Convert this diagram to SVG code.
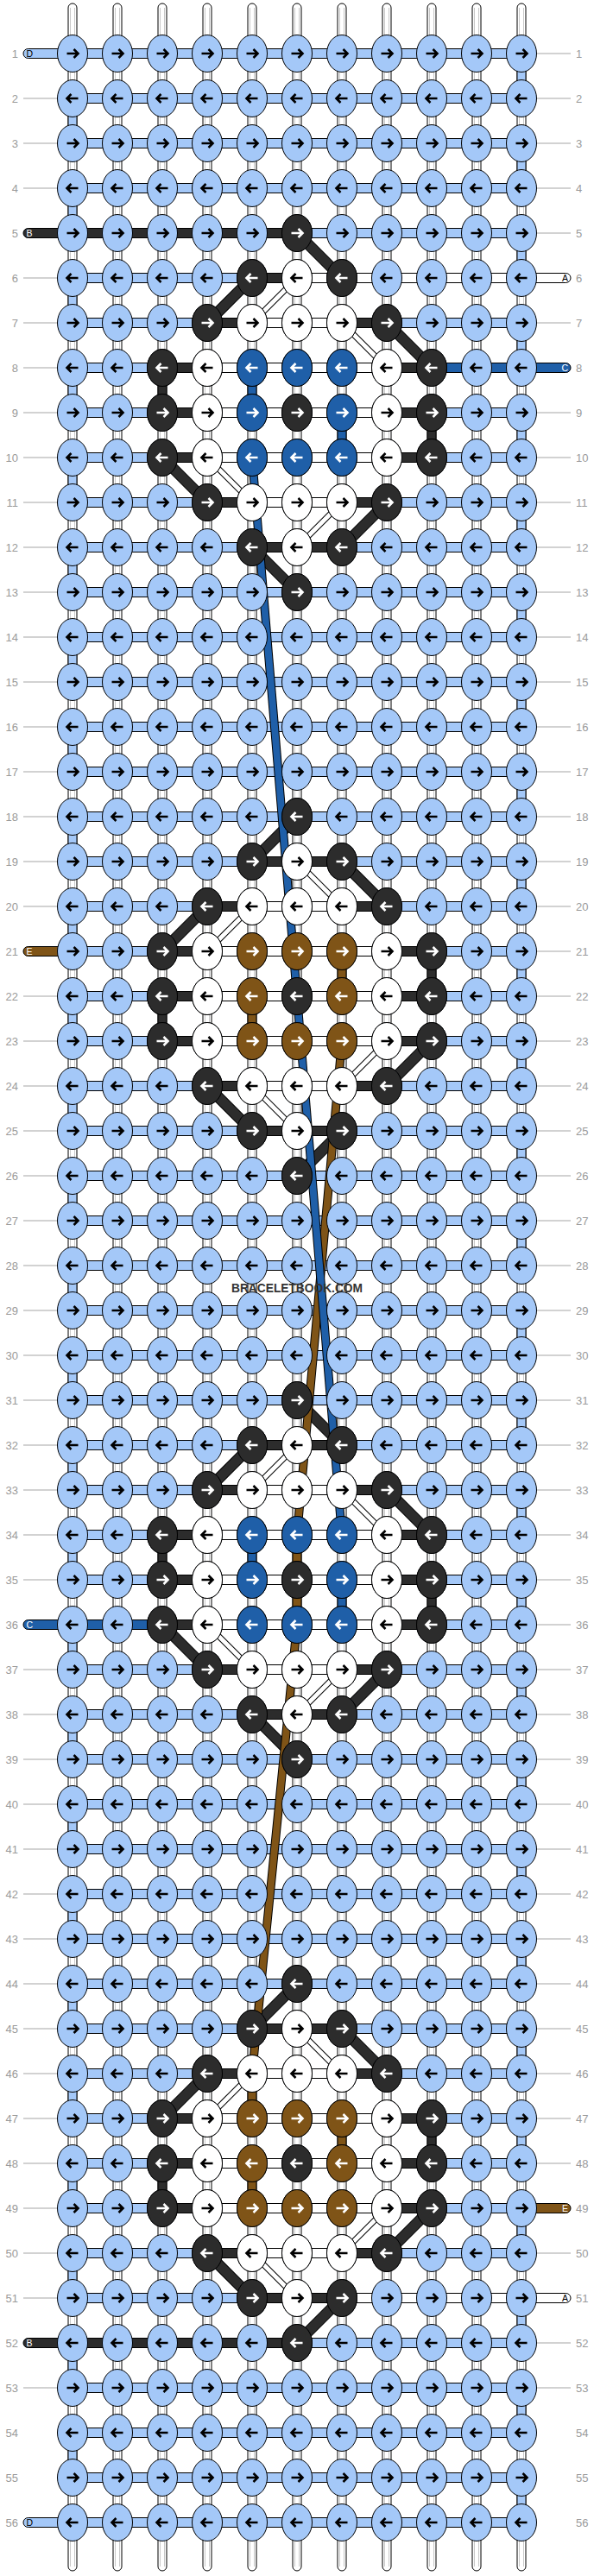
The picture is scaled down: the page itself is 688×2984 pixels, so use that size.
<svg xmlns="http://www.w3.org/2000/svg" width="688" height="2984" viewBox="0 0 688 2984">
<style>
.s{stroke:#000;stroke-width:1}
.L{fill:#a4c8f8}.K{fill:#2c2c2c}.W{fill:#fff}.U{fill:#1f5fa8}.N{fill:#7f5417}
.ab{stroke:#000}.aw{stroke:#fff}
.lbl{font-family:"Liberation Sans",Arial,sans-serif;font-size:13px;fill:#9a9a9a}
.ent{font-family:"Liberation Sans",Arial,sans-serif;font-size:10.5px}
.gl{stroke:#c4c4c4;stroke-width:1.5;fill:none}
.in{stroke:#c8c8c8;stroke-width:1;fill:none}
</style>
<defs>
<path id="ar" d="M-6.5,0H6M1.5,-5L6.5,0L1.5,5" fill="none" stroke-width="2.6"/>
<path id="al" d="M6.5,0H-6M-1.5,-5L-6.5,0L-1.5,5" fill="none" stroke-width="2.6"/>
<g id="Lr" class="L"><ellipse class="s" rx="17.5" ry="21.5"/><use href="#ar" class="ab"/></g>
<g id="Ll" class="L"><ellipse class="s" rx="17.5" ry="21.5"/><use href="#al" class="ab"/></g>
<g id="Wr" class="W"><ellipse class="s" rx="17.5" ry="21.5"/><use href="#ar" class="ab"/></g>
<g id="Wl" class="W"><ellipse class="s" rx="17.5" ry="21.5"/><use href="#al" class="ab"/></g>
<g id="Kr" class="K"><ellipse class="s" rx="17.5" ry="21.5"/><use href="#ar" class="aw"/></g>
<g id="Kl" class="K"><ellipse class="s" rx="17.5" ry="21.5"/><use href="#al" class="aw"/></g>
<g id="Ur" class="U"><ellipse class="s" rx="17.5" ry="21.5"/><use href="#ar" class="aw"/></g>
<g id="Ul" class="U"><ellipse class="s" rx="17.5" ry="21.5"/><use href="#al" class="aw"/></g>
<g id="Nr" class="N"><ellipse class="s" rx="17.5" ry="21.5"/><use href="#ar" class="aw"/></g>
<g id="Nl" class="N"><ellipse class="s" rx="17.5" ry="21.5"/><use href="#al" class="aw"/></g>
<g id="PR"><use href="#Lr" x="84"/><use href="#Lr" x="136"/><use href="#Lr" x="188"/><use href="#Lr" x="240"/><use href="#Lr" x="292"/><use href="#Lr" x="344"/><use href="#Lr" x="396"/><use href="#Lr" x="448"/><use href="#Lr" x="500"/><use href="#Lr" x="552"/><use href="#Lr" x="604"/></g>
<g id="PL"><use href="#Ll" x="84"/><use href="#Ll" x="136"/><use href="#Ll" x="188"/><use href="#Ll" x="240"/><use href="#Ll" x="292"/><use href="#Ll" x="344"/><use href="#Ll" x="396"/><use href="#Ll" x="448"/><use href="#Ll" x="500"/><use href="#Ll" x="552"/><use href="#Ll" x="604"/></g>
<g id="hA"><rect class="s K" x="240" y="-5.5" width="208" height="11"/><rect class="s W" x="292" y="-5.5" width="104" height="11"/></g>
<g id="hB"><rect class="s K" x="188" y="-5.5" width="312" height="11"/><rect class="s W" x="240" y="-5.5" width="208" height="11"/></g>
<rect id="hC" class="s K" x="292" y="-5.5" width="104" height="11"/>
<path id="kd" d="M344,270L396,322M292,322L240,374M448,374L500,426M188,530L240,582M448,582L396,634M292,634L344,686M344,946L292,998M396,998L448,1050M240,1050L188,1102M500,1206L448,1258M240,1258L292,1310M396,1310L344,1362M344,1622L396,1674M292,1674L240,1726M448,1726L500,1778M188,1882L240,1934M448,1934L396,1986M292,1986L344,2038M344,2298L292,2350M396,2350L448,2402M240,2402L188,2454M500,2558L448,2610M240,2610L292,2662M396,2662L344,2714" fill="none"/>
<path id="wd" d="M344,322L292,374M396,374L448,426M240,530L292,582M396,582L344,634M344,998L396,1050M292,1050L240,1102M448,1206L396,1258M292,1258L344,1310M344,1674L292,1726M396,1726L448,1778M240,1882L292,1934M396,1934L344,1986M344,2350L396,2402M292,2402L240,2454M448,2558L396,2610M292,2610L344,2662" fill="none"/>
<path id="bn" d="M396,1206L344,1778M344,1882L292,2402" fill="none"/>
<path id="bl" d="M292,530L396,1778" fill="none"/>
</defs>
<rect width="688" height="2984" fill="#fff"/>

<g id="row-lines" class="gl">
<path d="M27,62h39m-39,52h39m-39,52h39m-39,52h39m-39,52h39m-39,52h39m-39,52h39m-39,52h39m-39,52h39m-39,52h39m-39,52h39m-39,52h39m-39,52h39m-39,52h39m-39,52h39m-39,52h39m-39,52h39m-39,52h39m-39,52h39m-39,52h39m-39,52h39m-39,52h39m-39,52h39m-39,52h39m-39,52h39m-39,52h39m-39,52h39m-39,52h39m-39,52h39m-39,52h39m-39,52h39m-39,52h39m-39,52h39m-39,52h39m-39,52h39m-39,52h39m-39,52h39m-39,52h39m-39,52h39m-39,52h39m-39,52h39m-39,52h39m-39,52h39m-39,52h39m-39,52h39m-39,52h39m-39,52h39m-39,52h39m-39,52h39m-39,52h39m-39,52h39m-39,52h39m-39,52h39m-39,52"/>
<path d="M622,62h39m-39,52h39m-39,52h39m-39,52h39m-39,52h39m-39,52h39m-39,52h39m-39,52h39m-39,52h39m-39,52h39m-39,52h39m-39,52h39m-39,52h39m-39,52h39m-39,52h39m-39,52h39m-39,52h39m-39,52h39m-39,52h39m-39,52h39m-39,52h39m-39,52h39m-39,52h39m-39,52h39m-39,52h39m-39,52h39m-39,52h39m-39,52h39m-39,52h39m-39,52h39m-39,52h39m-39,52h39m-39,52h39m-39,52h39m-39,52h39m-39,52h39m-39,52h39m-39,52h39m-39,52h39m-39,52h39m-39,52h39m-39,52h39m-39,52h39m-39,52h39m-39,52h39m-39,52h39m-39,52h39m-39,52h39m-39,52h39m-39,52h39m-39,52h39m-39,52h39m-39,52h39m-39,52"/>
</g>

<g id="vertical-strings">
<rect class="s W" x="79" y="4" width="10" height="2974" rx="5"/>
<rect class="s W" x="131" y="4" width="10" height="2974" rx="5"/>
<rect class="s W" x="183" y="4" width="10" height="2974" rx="5"/>
<rect class="s W" x="235" y="4" width="10" height="2974" rx="5"/>
<rect class="s W" x="287" y="4" width="10" height="2974" rx="5"/>
<rect class="s W" x="339" y="4" width="10" height="2974" rx="5"/>
<rect class="s W" x="391" y="4" width="10" height="2974" rx="5"/>
<rect class="s W" x="443" y="4" width="10" height="2974" rx="5"/>
<rect class="s W" x="495" y="4" width="10" height="2974" rx="5"/>
<rect class="s W" x="547" y="4" width="10" height="2974" rx="5"/>
<rect class="s W" x="599" y="4" width="10" height="2974" rx="5"/>
<path class="in" d="M81.5,9V2973M86.5,9V2973M133.5,9V2973M138.5,9V2973M185.5,9V2973M190.5,9V2973M237.5,9V2973M242.5,9V2973M289.5,9V2973M294.5,9V2973M341.5,9V2973M346.5,9V2973M393.5,9V2973M398.5,9V2973M445.5,9V2973M450.5,9V2973M497.5,9V2973M502.5,9V2973M549.5,9V2973M554.5,9V2973M601.5,9V2973M606.5,9V2973"/>
</g>

<g id="connectors">
<path class="s L" d="M79,114h10v52h-10zm0,104h10v52h-10zm0,104h10v52h-10zm0,104h10v52h-10zm0,104h10v52h-10zm0,104h10v52h-10zm0,104h10v52h-10zm0,104h10v52h-10zm0,104h10v52h-10zm0,104h10v52h-10zm0,104h10v52h-10zm0,104h10v52h-10zm0,104h10v52h-10zm0,104h10v52h-10zm0,104h10v52h-10zm0,104h10v52h-10zm0,104h10v52h-10zm0,104h10v52h-10zm0,104h10v52h-10zm0,104h10v52h-10zm0,104h10v52h-10zm0,104h10v52h-10zm0,104h10v52h-10zm0,104h10v52h-10zm0,104h10v52h-10zm0,104h10v52h-10zm0,104h10v52h-10z"/>
<path class="s L" d="M599,62h10v52h-10zm0,104h10v52h-10zm0,104h10v52h-10zm0,104h10v52h-10zm0,104h10v52h-10zm0,104h10v52h-10zm0,104h10v52h-10zm0,104h10v52h-10zm0,104h10v52h-10zm0,104h10v52h-10zm0,104h10v52h-10zm0,104h10v52h-10zm0,104h10v52h-10zm0,104h10v52h-10zm0,104h10v52h-10zm0,104h10v52h-10zm0,104h10v52h-10zm0,104h10v52h-10zm0,104h10v52h-10zm0,104h10v52h-10zm0,104h10v52h-10zm0,104h10v52h-10zm0,104h10v52h-10zm0,104h10v52h-10zm0,104h10v52h-10zm0,104h10v52h-10zm0,104h10v52h-10zm0,104h10v52h-10z"/>
<rect class="s K" x="183" y="426" width="10" height="52"/>
<rect class="s K" x="495" y="478" width="10" height="52"/>
<rect class="s K" x="495" y="1102" width="10" height="52"/>
<rect class="s K" x="183" y="1154" width="10" height="52"/>
<rect class="s K" x="183" y="1778" width="10" height="52"/>
<rect class="s K" x="495" y="1830" width="10" height="52"/>
<rect class="s K" x="495" y="2454" width="10" height="52"/>
<rect class="s K" x="183" y="2506" width="10" height="52"/>
<rect class="s U" x="287" y="426" width="10" height="52"/>
<rect class="s U" x="391" y="478" width="10" height="52"/>
<rect class="s U" x="287" y="1778" width="10" height="52"/>
<rect class="s U" x="391" y="1830" width="10" height="52"/>
<rect class="s N" x="391" y="1102" width="10" height="52"/>
<rect class="s N" x="287" y="1154" width="10" height="52"/>
<rect class="s N" x="339" y="1778" width="10" height="52"/>
<rect class="s N" x="339" y="1830" width="10" height="52"/>
<rect class="s N" x="287" y="2402" width="10" height="52"/>
<rect class="s N" x="391" y="2454" width="10" height="52"/>
<rect class="s N" x="287" y="2506" width="10" height="52"/>

<path class="s L" d="M84,56.5h520v11h-520zm0,52h520v11h-520zm0,52h520v11h-520zm0,52h520v11h-520zm0,52h520v11h-520zm0,52h520v11h-520zm0,52h520v11h-520zm0,52h520v11h-520zm0,52h520v11h-520zm0,52h520v11h-520zm0,52h520v11h-520zm0,52h520v11h-520zm0,52h520v11h-520zm0,52h520v11h-520zm0,52h520v11h-520zm0,52h520v11h-520zm0,52h520v11h-520zm0,52h520v11h-520zm0,52h520v11h-520zm0,52h520v11h-520zm0,52h520v11h-520zm0,52h520v11h-520zm0,52h520v11h-520zm0,52h520v11h-520zm0,52h520v11h-520zm0,52h520v11h-520zm0,52h520v11h-520zm0,52h520v11h-520zm0,52h520v11h-520zm0,52h520v11h-520zm0,52h520v11h-520zm0,52h520v11h-520zm0,52h520v11h-520zm0,52h520v11h-520zm0,52h520v11h-520zm0,52h520v11h-520zm0,52h520v11h-520zm0,52h520v11h-520zm0,52h520v11h-520zm0,52h520v11h-520zm0,52h520v11h-520zm0,52h520v11h-520zm0,52h520v11h-520zm0,52h520v11h-520zm0,52h520v11h-520zm0,52h520v11h-520zm0,52h520v11h-520zm0,52h520v11h-520zm0,52h520v11h-520zm0,52h520v11h-520zm0,52h520v11h-520zm0,52h520v11h-520zm0,52h520v11h-520zm0,52h520v11h-520zm0,52h520v11h-520zm0,52h520v11h-520z"/>

<use href="#hC" y="322"/><use href="#hC" y="634"/><use href="#hC" y="998"/><use href="#hC" y="1310"/><use href="#hC" y="1674"/><use href="#hC" y="1986"/><use href="#hC" y="2350"/><use href="#hC" y="2662"/>
<use href="#hA" y="374"/><use href="#hA" y="582"/><use href="#hA" y="1050"/><use href="#hA" y="1258"/><use href="#hA" y="1726"/><use href="#hA" y="1934"/><use href="#hA" y="2402"/><use href="#hA" y="2610"/>
<use href="#hB" y="426"/><use href="#hB" y="478"/><use href="#hB" y="530"/><use href="#hB" y="1102"/><use href="#hB" y="1154"/><use href="#hB" y="1206"/><use href="#hB" y="1778"/><use href="#hB" y="1830"/><use href="#hB" y="1882"/><use href="#hB" y="2454"/><use href="#hB" y="2506"/><use href="#hB" y="2558"/>

<rect class="s L" x="27" y="56.5" width="62" height="11" rx="5.5"/>
<rect class="s K" x="27" y="264.5" width="317" height="11" rx="5.5"/>
<rect class="s W" x="344" y="316.5" width="317" height="11" rx="5.5"/>
<rect class="s U" x="500" y="420.5" width="161" height="11" rx="5.5"/>
<rect class="s N" x="27" y="1096.5" width="62" height="11" rx="5.5"/>
<rect class="s U" x="27" y="1876.5" width="161" height="11" rx="5.5"/>
<rect class="s N" x="599" y="2552.5" width="62" height="11" rx="5.5"/>
<rect class="s W" x="396" y="2656.5" width="265" height="11" rx="5.5"/>
<rect class="s K" x="27" y="2708.5" width="317" height="11" rx="5.5"/>
<rect class="s L" x="27" y="2916.5" width="62" height="11" rx="5.5"/>

<use href="#kd" stroke="#000" stroke-width="13"/>
<use href="#kd" stroke="#2c2c2c" stroke-width="11"/>
<use href="#wd" stroke="#000" stroke-width="7"/>
<use href="#wd" stroke="#fff" stroke-width="5"/>
<use href="#bn" stroke="#000" stroke-width="10"/>
<use href="#bn" stroke="#7f5417" stroke-width="8"/>
<use href="#bl" stroke="#000" stroke-width="10"/>
<use href="#bl" stroke="#1f5fa8" stroke-width="8"/>
</g>

<g id="knots">
<g id="row-1" transform="translate(0,62)"><use href="#PR"/></g>
<g id="row-2" transform="translate(0,114)"><use href="#PL"/></g>
<g id="row-3" transform="translate(0,166)"><use href="#PR"/></g>
<g id="row-4" transform="translate(0,218)"><use href="#PL"/></g>
<g id="row-5" transform="translate(0,270)"><use href="#PR"/><use href="#Kr" x="344"/></g>
<g id="row-6" transform="translate(0,322)"><use href="#PL"/><use href="#Kl" x="292"/><use href="#Wl" x="344"/><use href="#Kl" x="396"/></g>
<g id="row-7" transform="translate(0,374)"><use href="#PR"/><use href="#Kr" x="240"/><use href="#Wr" x="292"/><use href="#Wr" x="344"/><use href="#Wr" x="396"/><use href="#Kr" x="448"/></g>
<g id="row-8" transform="translate(0,426)"><use href="#PL"/><use href="#Kl" x="188"/><use href="#Wl" x="240"/><use href="#Ul" x="292"/><use href="#Ul" x="344"/><use href="#Ul" x="396"/><use href="#Wl" x="448"/><use href="#Kl" x="500"/></g>
<g id="row-9" transform="translate(0,478)"><use href="#PR"/><use href="#Kr" x="188"/><use href="#Wr" x="240"/><use href="#Ur" x="292"/><use href="#Kr" x="344"/><use href="#Ur" x="396"/><use href="#Wr" x="448"/><use href="#Kr" x="500"/></g>
<g id="row-10" transform="translate(0,530)"><use href="#PL"/><use href="#Kl" x="188"/><use href="#Wl" x="240"/><use href="#Ul" x="292"/><use href="#Ul" x="344"/><use href="#Ul" x="396"/><use href="#Wl" x="448"/><use href="#Kl" x="500"/></g>
<g id="row-11" transform="translate(0,582)"><use href="#PR"/><use href="#Kr" x="240"/><use href="#Wr" x="292"/><use href="#Wr" x="344"/><use href="#Wr" x="396"/><use href="#Kr" x="448"/></g>
<g id="row-12" transform="translate(0,634)"><use href="#PL"/><use href="#Kl" x="292"/><use href="#Wl" x="344"/><use href="#Kl" x="396"/></g>
<g id="row-13" transform="translate(0,686)"><use href="#PR"/><use href="#Kr" x="344"/></g>
<g id="row-14" transform="translate(0,738)"><use href="#PL"/></g>
<g id="row-15" transform="translate(0,790)"><use href="#PR"/></g>
<g id="row-16" transform="translate(0,842)"><use href="#PL"/></g>
<g id="row-17" transform="translate(0,894)"><use href="#PR"/></g>
<g id="row-18" transform="translate(0,946)"><use href="#PL"/><use href="#Kl" x="344"/></g>
<g id="row-19" transform="translate(0,998)"><use href="#PR"/><use href="#Kr" x="292"/><use href="#Wr" x="344"/><use href="#Kr" x="396"/></g>
<g id="row-20" transform="translate(0,1050)"><use href="#PL"/><use href="#Kl" x="240"/><use href="#Wl" x="292"/><use href="#Wl" x="344"/><use href="#Wl" x="396"/><use href="#Kl" x="448"/></g>
<g id="row-21" transform="translate(0,1102)"><use href="#PR"/><use href="#Kr" x="188"/><use href="#Wr" x="240"/><use href="#Nr" x="292"/><use href="#Nr" x="344"/><use href="#Nr" x="396"/><use href="#Wr" x="448"/><use href="#Kr" x="500"/></g>
<g id="row-22" transform="translate(0,1154)"><use href="#PL"/><use href="#Kl" x="188"/><use href="#Wl" x="240"/><use href="#Nl" x="292"/><use href="#Kl" x="344"/><use href="#Nl" x="396"/><use href="#Wl" x="448"/><use href="#Kl" x="500"/></g>
<g id="row-23" transform="translate(0,1206)"><use href="#PR"/><use href="#Kr" x="188"/><use href="#Wr" x="240"/><use href="#Nr" x="292"/><use href="#Nr" x="344"/><use href="#Nr" x="396"/><use href="#Wr" x="448"/><use href="#Kr" x="500"/></g>
<g id="row-24" transform="translate(0,1258)"><use href="#PL"/><use href="#Kl" x="240"/><use href="#Wl" x="292"/><use href="#Wl" x="344"/><use href="#Wl" x="396"/><use href="#Kl" x="448"/></g>
<g id="row-25" transform="translate(0,1310)"><use href="#PR"/><use href="#Kr" x="292"/><use href="#Wr" x="344"/><use href="#Kr" x="396"/></g>
<g id="row-26" transform="translate(0,1362)"><use href="#PL"/><use href="#Kl" x="344"/></g>
<g id="row-27" transform="translate(0,1414)"><use href="#PR"/></g>
<g id="row-28" transform="translate(0,1466)"><use href="#PL"/></g>
<g id="row-29" transform="translate(0,1518)"><use href="#PR"/></g>
<g id="row-30" transform="translate(0,1570)"><use href="#PL"/></g>
<g id="row-31" transform="translate(0,1622)"><use href="#PR"/><use href="#Kr" x="344"/></g>
<g id="row-32" transform="translate(0,1674)"><use href="#PL"/><use href="#Kl" x="292"/><use href="#Wl" x="344"/><use href="#Kl" x="396"/></g>
<g id="row-33" transform="translate(0,1726)"><use href="#PR"/><use href="#Kr" x="240"/><use href="#Wr" x="292"/><use href="#Wr" x="344"/><use href="#Wr" x="396"/><use href="#Kr" x="448"/></g>
<g id="row-34" transform="translate(0,1778)"><use href="#PL"/><use href="#Kl" x="188"/><use href="#Wl" x="240"/><use href="#Ul" x="292"/><use href="#Ul" x="344"/><use href="#Ul" x="396"/><use href="#Wl" x="448"/><use href="#Kl" x="500"/></g>
<g id="row-35" transform="translate(0,1830)"><use href="#PR"/><use href="#Kr" x="188"/><use href="#Wr" x="240"/><use href="#Ur" x="292"/><use href="#Kr" x="344"/><use href="#Ur" x="396"/><use href="#Wr" x="448"/><use href="#Kr" x="500"/></g>
<g id="row-36" transform="translate(0,1882)"><use href="#PL"/><use href="#Kl" x="188"/><use href="#Wl" x="240"/><use href="#Ul" x="292"/><use href="#Ul" x="344"/><use href="#Ul" x="396"/><use href="#Wl" x="448"/><use href="#Kl" x="500"/></g>
<g id="row-37" transform="translate(0,1934)"><use href="#PR"/><use href="#Kr" x="240"/><use href="#Wr" x="292"/><use href="#Wr" x="344"/><use href="#Wr" x="396"/><use href="#Kr" x="448"/></g>
<g id="row-38" transform="translate(0,1986)"><use href="#PL"/><use href="#Kl" x="292"/><use href="#Wl" x="344"/><use href="#Kl" x="396"/></g>
<g id="row-39" transform="translate(0,2038)"><use href="#PR"/><use href="#Kr" x="344"/></g>
<g id="row-40" transform="translate(0,2090)"><use href="#PL"/></g>
<g id="row-41" transform="translate(0,2142)"><use href="#PR"/></g>
<g id="row-42" transform="translate(0,2194)"><use href="#PL"/></g>
<g id="row-43" transform="translate(0,2246)"><use href="#PR"/></g>
<g id="row-44" transform="translate(0,2298)"><use href="#PL"/><use href="#Kl" x="344"/></g>
<g id="row-45" transform="translate(0,2350)"><use href="#PR"/><use href="#Kr" x="292"/><use href="#Wr" x="344"/><use href="#Kr" x="396"/></g>
<g id="row-46" transform="translate(0,2402)"><use href="#PL"/><use href="#Kl" x="240"/><use href="#Wl" x="292"/><use href="#Wl" x="344"/><use href="#Wl" x="396"/><use href="#Kl" x="448"/></g>
<g id="row-47" transform="translate(0,2454)"><use href="#PR"/><use href="#Kr" x="188"/><use href="#Wr" x="240"/><use href="#Nr" x="292"/><use href="#Nr" x="344"/><use href="#Nr" x="396"/><use href="#Wr" x="448"/><use href="#Kr" x="500"/></g>
<g id="row-48" transform="translate(0,2506)"><use href="#PL"/><use href="#Kl" x="188"/><use href="#Wl" x="240"/><use href="#Nl" x="292"/><use href="#Kl" x="344"/><use href="#Nl" x="396"/><use href="#Wl" x="448"/><use href="#Kl" x="500"/></g>
<g id="row-49" transform="translate(0,2558)"><use href="#PR"/><use href="#Kr" x="188"/><use href="#Wr" x="240"/><use href="#Nr" x="292"/><use href="#Nr" x="344"/><use href="#Nr" x="396"/><use href="#Wr" x="448"/><use href="#Kr" x="500"/></g>
<g id="row-50" transform="translate(0,2610)"><use href="#PL"/><use href="#Kl" x="240"/><use href="#Wl" x="292"/><use href="#Wl" x="344"/><use href="#Wl" x="396"/><use href="#Kl" x="448"/></g>
<g id="row-51" transform="translate(0,2662)"><use href="#PR"/><use href="#Kr" x="292"/><use href="#Wr" x="344"/><use href="#Kr" x="396"/></g>
<g id="row-52" transform="translate(0,2714)"><use href="#PL"/><use href="#Kl" x="344"/></g>
<g id="row-53" transform="translate(0,2766)"><use href="#PR"/></g>
<g id="row-54" transform="translate(0,2818)"><use href="#PL"/></g>
<g id="row-55" transform="translate(0,2870)"><use href="#PR"/></g>
<g id="row-56" transform="translate(0,2922)"><use href="#PL"/></g>
</g>

<g id="labels-left" class="lbl" text-anchor="end">
<text x="21" y="66.5">1</text><text x="21" y="118.5">2</text><text x="21" y="170.5">3</text><text x="21" y="222.5">4</text><text x="21" y="274.5">5</text><text x="21" y="326.5">6</text><text x="21" y="378.5">7</text><text x="21" y="430.5">8</text><text x="21" y="482.5">9</text><text x="21" y="534.5">10</text>
<text x="21" y="586.5">11</text><text x="21" y="638.5">12</text><text x="21" y="690.5">13</text><text x="21" y="742.5">14</text><text x="21" y="794.5">15</text><text x="21" y="846.5">16</text><text x="21" y="898.5">17</text><text x="21" y="950.5">18</text><text x="21" y="1002.5">19</text><text x="21" y="1054.5">20</text>
<text x="21" y="1106.5">21</text><text x="21" y="1158.5">22</text><text x="21" y="1210.5">23</text><text x="21" y="1262.5">24</text><text x="21" y="1314.5">25</text><text x="21" y="1366.5">26</text><text x="21" y="1418.5">27</text><text x="21" y="1470.5">28</text><text x="21" y="1522.5">29</text><text x="21" y="1574.5">30</text>
<text x="21" y="1626.5">31</text><text x="21" y="1678.5">32</text><text x="21" y="1730.5">33</text><text x="21" y="1782.5">34</text><text x="21" y="1834.5">35</text><text x="21" y="1886.5">36</text><text x="21" y="1938.5">37</text><text x="21" y="1990.5">38</text><text x="21" y="2042.5">39</text><text x="21" y="2094.5">40</text>
<text x="21" y="2146.5">41</text><text x="21" y="2198.5">42</text><text x="21" y="2250.5">43</text><text x="21" y="2302.5">44</text><text x="21" y="2354.5">45</text><text x="21" y="2406.5">46</text><text x="21" y="2458.5">47</text><text x="21" y="2510.5">48</text><text x="21" y="2562.5">49</text><text x="21" y="2614.5">50</text>
<text x="21" y="2666.5">51</text><text x="21" y="2718.5">52</text><text x="21" y="2770.5">53</text><text x="21" y="2822.5">54</text><text x="21" y="2874.5">55</text><text x="21" y="2926.5">56</text>
</g>
<g id="labels-right" class="lbl">
<text x="667" y="66.5">1</text><text x="667" y="118.5">2</text><text x="667" y="170.5">3</text><text x="667" y="222.5">4</text><text x="667" y="274.5">5</text><text x="667" y="326.5">6</text><text x="667" y="378.5">7</text><text x="667" y="430.5">8</text><text x="667" y="482.5">9</text><text x="667" y="534.5">10</text>
<text x="667" y="586.5">11</text><text x="667" y="638.5">12</text><text x="667" y="690.5">13</text><text x="667" y="742.5">14</text><text x="667" y="794.5">15</text><text x="667" y="846.5">16</text><text x="667" y="898.5">17</text><text x="667" y="950.5">18</text><text x="667" y="1002.5">19</text><text x="667" y="1054.5">20</text>
<text x="667" y="1106.5">21</text><text x="667" y="1158.5">22</text><text x="667" y="1210.5">23</text><text x="667" y="1262.5">24</text><text x="667" y="1314.5">25</text><text x="667" y="1366.5">26</text><text x="667" y="1418.5">27</text><text x="667" y="1470.5">28</text><text x="667" y="1522.5">29</text><text x="667" y="1574.5">30</text>
<text x="667" y="1626.5">31</text><text x="667" y="1678.5">32</text><text x="667" y="1730.5">33</text><text x="667" y="1782.5">34</text><text x="667" y="1834.5">35</text><text x="667" y="1886.5">36</text><text x="667" y="1938.5">37</text><text x="667" y="1990.5">38</text><text x="667" y="2042.5">39</text><text x="667" y="2094.5">40</text>
<text x="667" y="2146.5">41</text><text x="667" y="2198.5">42</text><text x="667" y="2250.5">43</text><text x="667" y="2302.5">44</text><text x="667" y="2354.5">45</text><text x="667" y="2406.5">46</text><text x="667" y="2458.5">47</text><text x="667" y="2510.5">48</text><text x="667" y="2562.5">49</text><text x="667" y="2614.5">50</text>
<text x="667" y="2666.5">51</text><text x="667" y="2718.5">52</text><text x="667" y="2770.5">53</text><text x="667" y="2822.5">54</text><text x="667" y="2874.5">55</text><text x="667" y="2926.5">56</text>
</g>

<g id="string-letters" class="ent">
<text x="30.5" y="65.7" fill="#000">D</text>
<text x="30.5" y="273.7" fill="#fff">B</text>
<text x="658" y="325.7" fill="#000" text-anchor="end">A</text>
<text x="658" y="429.7" fill="#fff" text-anchor="end">C</text>
<text x="30.5" y="1105.7" fill="#fff">E</text>
<text x="30.5" y="1885.7" fill="#fff">C</text>
<text x="658" y="2561.7" fill="#fff" text-anchor="end">E</text>
<text x="658" y="2665.7" fill="#000" text-anchor="end">A</text>
<text x="30.5" y="2717.7" fill="#fff">B</text>
<text x="30.5" y="2925.7" fill="#000">D</text>
</g>

<text id="watermark" x="344" y="1497" text-anchor="middle" font-family="Liberation Sans, Arial, sans-serif" font-weight="bold" font-size="15" fill="#333" textLength="152" lengthAdjust="spacingAndGlyphs">BRACELETBOOK.COM</text>
</svg>
